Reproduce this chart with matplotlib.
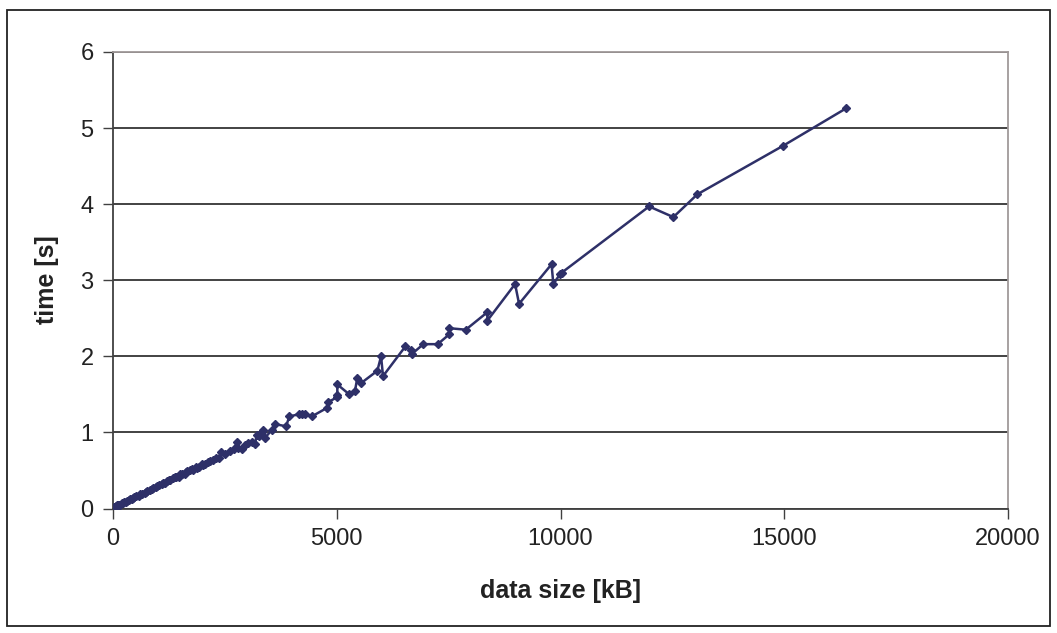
import matplotlib.pyplot as plt
from matplotlib.patches import Rectangle

# data size [kB] and measured time [s]
size_kb = [0, 16, 32, 48, 64, 80, 96, 112, 128, 160, 192, 224, 256, 288,
           320, 352, 384, 416, 448, 480, 512, 576, 608, 640, 704, 736, 768,
           832, 864, 896, 960, 992, 1024, 1088, 1120, 1152, 1216, 1248, 1280,
           1344, 1376, 1408, 1472, 1504, 1536, 1600, 1632, 1664, 1728, 1760,
           1792, 1856, 1888, 1920, 1984, 2016, 2048, 2112, 2176, 2240, 2304,
           2368, 2421, 2500, 2615, 2700, 2764, 2800, 2876, 2950, 3025, 3100,
           3174, 3211, 3260, 3323, 3360, 3397, 3547, 3621, 3867, 3941, 4164,
           4220, 4291, 4441, 4776, 4813, 5000, 5013, 5013, 5281, 5409, 5460,
           5549, 5907, 5990, 6034, 6533, 6660, 6676, 6936, 7257, 7516, 7516,
           7883, 8366, 8366, 8985, 9074, 9800, 9840, 9990, 10028, 11980,
           12522, 13059, 14982, 16384]
time_s = [0.00, 0.01, 0.02, 0.02, 0.03, 0.03, 0.04, 0.04, 0.05, 0.05, 0.07,
          0.07, 0.09, 0.09, 0.10, 0.11, 0.12, 0.13, 0.14, 0.15, 0.16, 0.17,
          0.19, 0.19, 0.21, 0.22, 0.23, 0.24, 0.26, 0.27, 0.28, 0.30, 0.31,
          0.32, 0.34, 0.34, 0.36, 0.38, 0.37, 0.40, 0.41, 0.41, 0.42, 0.45,
          0.45, 0.46, 0.48, 0.49, 0.50, 0.52, 0.51, 0.54, 0.53, 0.55, 0.58,
          0.57, 0.59, 0.61, 0.62, 0.64, 0.66, 0.67, 0.74, 0.71, 0.76, 0.78,
          0.87, 0.80, 0.78, 0.83, 0.86, 0.88, 0.85, 0.97, 0.95, 1.01, 1.03,
          0.93, 1.03, 1.11, 1.08, 1.21, 1.24, 1.24, 1.24, 1.21, 1.32, 1.40,
          1.46, 1.49, 1.63, 1.50, 1.55, 1.72, 1.65, 1.81, 2.00, 1.74, 2.13,
          2.08, 2.03, 2.16, 2.16, 2.29, 2.37, 2.35, 2.58, 2.47, 2.95, 2.69,
          3.21, 2.95, 3.08, 3.10, 3.97, 3.83, 4.13, 4.77, 5.26]

x_ticks = [0, 5000, 10000, 15000, 20000]
y_ticks = [0, 1, 2, 3, 4, 5, 6]

plt.rcParams['font.family'] = ['Liberation Sans', 'DejaVu Sans']

fig = plt.figure(figsize=(10.57, 6.33), dpi=100)
ax = fig.add_axes([113 / 1057, 1 - 508.5 / 633, 895 / 1057, 456.5 / 633])

ax.plot(size_kb, time_s, color='#2E3068', linewidth=1.8, marker='D',
        markersize=4, zorder=3)

ax.set_xlim(0, 20000)
ax.set_ylim(0, 6)
ax.set_xticks(x_ticks)
ax.set_yticks(y_ticks)
ax.tick_params(labelsize=17, length=7, width=1, direction='out',
               color='#404040', labelcolor='#222222')
ax.tick_params(axis='x', pad=7)
ax.tick_params(axis='y', pad=7)
ax.yaxis.grid(True, color='#222222', linewidth=1.2)
ax.set_axisbelow(True)

for side in ['left', 'bottom']:
    ax.spines[side].set_color('#404040')
    ax.spines[side].set_linewidth(1.3)
for side in ['top', 'right']:
    ax.spines[side].set_color('#a09a9a')
    ax.spines[side].set_linewidth(1.3)

fig.text(561 / 1057, 1 - 591 / 633, 'data size [kB]', fontsize=18,
         fontweight='bold', ha='center', va='center', color='#222222')
fig.text(47 / 1057, 1 - 280 / 633, 'time [s]', fontsize=18,
         fontweight='bold', ha='center', va='center', rotation=90,
         color='#222222')

# outer chart border
fig.patches.append(Rectangle((7 / 1057, 1 - 626 / 633), 1043 / 1057,
                             616 / 633, transform=fig.transFigure,
                             fill=False, edgecolor='#222222', linewidth=1.3))

fig.savefig('out.png', dpi=100)
